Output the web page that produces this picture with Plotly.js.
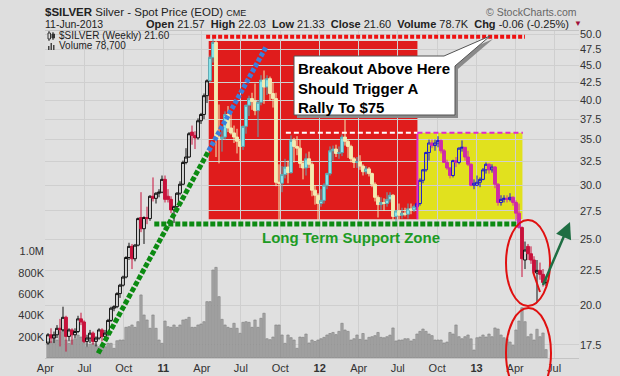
<!DOCTYPE html>
<html><head><meta charset="utf-8">
<script src="https://cdn.plot.ly/plotly-3.0.1.min.js"></script>
<style>html,body{margin:0;padding:0;background:#dedede;}#chart{width:620px;height:376px;}</style>
</head><body><div id="chart"></div>
<script>
// ---- data: weekly bars of $SILVER, first week 2010-04-05 ----
const firstWeek = '2010-04-07';
const opens = [17.6,18.1,17.9,18.1,18.5,18.4,19.2,18.0,18.4,18.1,
18.3,19.1,18.9,17.7,17.9,18.2,17.7,17.9,18.4,18.0,
18.2,19.0,19.8,19.9,20.8,21.4,22.0,23.5,24.4,23.4,
24.5,26.9,25.9,26.9,26.8,28.9,28.7,29.2,29.3,30.6,
28.9,28.6,27.6,27.9,29.2,30.1,32.4,33.0,35.9,35.5,
35.2,37.3,38.1,40.6,42.7,46.2,48.6,35.3,35.1,35.3,
38.1,36.4,35.8,35.3,34.8,34.2,36.6,39.3,40.2,39.8,
38.6,39.7,42.8,41.8,43.0,40.9,40.2,30.3,30.2,31.1,
31.9,31.3,34.9,34.2,34.0,32.3,31.8,32.8,32.2,29.5,
29.0,28.2,28.5,30.0,31.2,33.7,33.9,33.4,33.5,35.3,
34.8,34.2,32.8,32.4,32.5,32.0,31.4,31.7,31.2,30.1,
28.8,28.1,28.3,28.2,28.6,29.0,27.0,27.5,27.1,27.3,
27.2,27.7,27.6,27.9,28.2,30.5,31.6,33.5,34.6,34.3,
34.6,34.9,33.7,32.4,31.8,31.0,32.6,32.4,34.0,34.1,
33.0,32.2,30.0,30.0,30.3,30.6,31.6,32.2,31.6,31.9,
30.1,28.3,28.6,28.7,28.6,28.8,28.3,27.3,26.0,23.3,
24.4,23.8,23.3,22.3,22.5,22.2,21.57];
const highs = [18.2,18.5,18.3,18.7,19.1,19.9,19.3,18.5,18.5,18.5,
19.3,19.5,19.0,18.1,18.4,18.3,18.0,18.5,18.5,18.4,
19.1,19.9,20.0,20.9,21.5,22.1,23.6,24.7,24.6,24.6,
26.9,29.3,27.0,27.9,29.0,30.8,29.3,29.6,31.0,31.0,
29.6,28.9,28.0,29.3,30.4,32.6,34.0,35.9,36.7,36.0,
37.6,38.3,40.9,42.9,46.5,49.8,49.0,39.4,36.4,38.5,
39.2,38.3,36.7,36.3,35.0,36.7,39.4,40.6,41.0,42.3,
40.0,43.5,44.2,43.5,43.3,42.5,41.0,32.2,32.0,32.8,
32.6,35.5,35.2,35.4,35.0,32.6,33.4,33.6,32.4,30.0,
29.2,29.6,30.2,31.3,34.2,34.3,34.4,34.2,35.6,37.5,
35.0,34.4,33.0,33.0,33.2,32.2,32.0,31.9,31.3,30.3,
29.0,28.8,28.7,29.3,29.3,29.1,27.6,28.2,27.8,27.8,
28.2,28.2,28.1,28.3,30.7,31.7,33.6,35.0,35.0,35.0,
35.4,35.0,33.9,32.7,31.9,32.7,33.0,34.1,34.9,34.1,
33.7,32.3,30.6,31.0,30.8,31.8,32.4,32.3,32.2,32.0,
30.2,29.0,29.0,29.0,29.2,28.9,28.5,28.2,26.1,24.8,
24.6,24.4,23.6,23.3,23.1,22.6,22.03];
const lows = [17.5,17.6,17.6,17.9,17.4,18.3,17.1,17.7,17.5,17.9,
18.2,18.7,17.6,17.4,17.6,17.5,17.4,17.8,17.7,17.8,
18.0,18.9,19.6,19.8,20.5,21.3,21.9,23.3,22.6,23.2,
24.4,25.6,24.6,26.3,26.6,28.4,28.2,28.8,29.2,28.3,
28.3,27.3,26.4,27.7,29.0,30.0,32.2,32.9,34.4,33.9,
35.0,36.9,37.5,39.6,42.5,45.4,33.0,32.3,33.6,35.0,
35.9,35.6,34.6,33.4,32.6,33.8,35.7,37.9,38.7,38.0,
35.3,39.3,39.5,40.7,39.9,39.0,29.9,26.2,29.3,30.7,
30.2,31.2,32.4,33.2,31.8,30.6,31.0,31.8,28.9,28.1,
26.2,27.9,28.2,29.6,31.0,32.6,33.0,32.8,33.1,34.3,
32.9,32.4,31.8,31.8,31.6,31.0,31.1,30.9,29.8,28.4,
26.9,27.6,27.5,27.9,28.3,26.6,26.5,26.7,26.8,27.0,
26.8,27.2,27.4,27.7,28.0,30.2,31.4,32.6,34.0,33.7,
34.1,33.4,32.4,31.6,30.7,30.8,31.9,32.2,33.6,32.6,
32.0,29.9,29.6,29.9,29.8,30.5,31.2,31.2,31.3,29.7,
28.0,28.0,28.3,28.3,28.4,28.0,26.6,25.9,22.0,22.6,
23.3,23.0,22.2,20.2,21.8,21.3,21.33];
const closes = [18.1,17.9,18.1,18.5,18.4,19.2,18.0,18.4,18.1,18.3,
19.1,18.9,17.7,17.9,18.2,17.7,17.9,18.4,18.0,18.2,
19.0,19.8,19.9,20.8,21.4,22.0,23.5,24.4,23.4,24.5,
26.8,25.9,26.9,26.8,28.9,28.7,29.2,29.3,30.6,28.6,
28.6,27.6,27.9,29.2,30.1,32.4,33.0,35.7,35.5,35.2,
37.3,38.1,40.6,42.7,46.2,48.6,35.3,35.1,35.3,38.1,
36.4,35.8,35.3,34.8,34.2,36.6,39.3,40.2,39.8,38.6,
39.7,42.8,41.8,43.0,40.9,40.2,30.3,30.2,31.1,31.9,
31.3,34.9,34.2,34.0,32.3,31.8,32.8,32.2,29.5,29.0,
28.2,28.5,30.0,31.2,33.7,33.9,33.4,33.5,35.3,34.8,
34.2,32.8,32.4,32.5,32.0,31.4,31.7,31.2,30.1,28.8,
28.1,28.3,28.2,28.6,29.0,27.0,27.5,27.1,27.3,27.2,
27.7,27.6,27.9,28.2,30.5,31.6,33.5,34.6,34.3,34.6,
34.9,33.7,32.4,31.8,31.0,32.6,32.4,34.0,34.1,33.0,
32.2,30.0,30.2,30.3,30.6,31.6,32.2,31.6,31.9,30.1,
28.3,28.6,28.7,28.6,28.8,28.3,27.3,26.0,23.4,24.1,
23.8,23.3,22.4,22.5,22.2,21.6,21.60];
const volumesK = [153,153,197,169,247,263,169,138,169,181,
216,197,169,106,130,138,122,106,122,106,
138,138,91,162,169,169,288,294,310,288,
341,592,404,357,279,404,279,169,138,347,
294,288,310,288,310,357,363,382,288,288,
310,319,341,529,529,826,851,576,363,310,
288,279,326,279,232,335,341,335,288,357,
288,373,420,181,172,197,310,310,216,138,
216,191,169,91,197,194,225,141,169,155,
169,181,194,216,230,240,220,250,326,263,
250,169,181,216,175,230,169,194,200,210,
240,194,190,200,215,282,160,169,169,181,
181,160,175,225,250,272,250,225,210,169,
169,169,141,150,240,225,310,200,181,200,
216,180,75,190,197,216,197,225,200,282,
272,216,190,175,150,120,263,347,472,341,
200,225,169,270,200,235,78.7];
const priceTicks = [17.5,20,22.5,25,27.5,30,32.5,35,37.5,40,42.5,45,47.5,50];
const volTicks = [200,400,600,800,1000];
const volTickText = ['200K','400K','600K','800K','1.0M'];
const monthTicks = ['2010-04-01','2010-07-01','2010-10-01','2011-01-01','2011-04-01','2011-07-01','2011-10-01',
  '2012-01-01','2012-04-01','2012-07-01','2012-10-01','2013-01-01','2013-04-01','2013-07-01'];
const monthLabels = ['Apr','Jul','Oct','<b>11</b>','Apr','Jul','Oct','<b>12</b>','Apr','Jul','Oct','<b>13</b>','Apr','Jul'];
// colour zones (start index of each zone)
const zoneStarts = [0,54,123,158];

// ---- build ----
const dates = opens.map((_,k)=>{const d=new Date(Date.UTC(2010,3,7)+k*7*864e5);return d.toISOString().slice(0,10);});
const zoneStyle = [
  {up:'#111111',upFill:'rgba(0,0,0,0)',dn:'#c8123c',dnFill:'#c8123c'},
  {up:'#5aaab4',upFill:'#8ce8ee',dn:'#f2ebb2',dnFill:'#f2ebb2'},
  {up:'#1a1ad0',upFill:'rgba(0,0,0,0)',dn:'#d02aa8',dnFill:'#d02aa8'},
  {up:'#111111',upFill:'rgba(0,0,0,0)',dn:'#c8123c',dnFill:'#c8123c'}
];
const traces = [{
  type:'bar', x:dates, y:volumesK, xaxis:'x', yaxis:'y',
  marker:{color:'#a9a9a9', line:{color:'#7c7c7c', width:0.6}},
  width:5.4*864e5, hoverinfo:'skip', showlegend:false
}];
zoneStarts.forEach((s,i)=>{
  const e = i+1<zoneStarts.length ? zoneStarts[i+1] : opens.length;
  const st = zoneStyle[i];
  traces.push({
    type:'candlestick', xaxis:'x', yaxis:'y2',
    x:dates.slice(s,e), open:opens.slice(s,e), high:highs.slice(s,e), low:lows.slice(s,e), close:closes.slice(s,e),
    increasing:{line:{color:st.up,width:1}, fillcolor:st.upFill},
    decreasing:{line:{color:st.dn,width:1}, fillcolor:st.dnFill},
    whiskerwidth:0, showlegend:false, hoverinfo:'skip'
  });
});

const L=45,R=579,T=31,B=358;
const px = x => (x-L)/(R-L);
const py = y => (B-y)/(B-T);
const pathP = pts => 'M'+pts.map(p=>px(p[0]).toFixed(4)+','+py(p[1]).toFixed(4)).join(' L')+' Z';
const FONT = 'Liberation Sans, Arial, sans-serif';

const shapes = [
  // zones
  {type:'rect',xref:'x',yref:'y2',x0:'2011-04-17',x1:'2012-08-16',y0:26.74,y1:48.83,fillcolor:'#e01c1c',line:{width:0},layer:'below'},
  {type:'rect',xref:'x',yref:'y2',x0:'2012-08-16',x1:'2013-04-18',y0:26.74,y1:35.83,fillcolor:'#e1e11e',line:{width:0},layer:'below'},
  {type:'line',xref:'x',yref:'y2',x0:'2012-08-16',x1:'2012-08-16',y0:26.74,y1:35.83,line:{color:'#e02ad0',width:2}},
  // dashed resistance lines
  {type:'line',xref:'x',yref:'y2',x0:'2011-10-14',x1:'2012-08-16',y0:35.83,y1:35.83,line:{color:'#ffffff',width:2,dash:'5px,3px'}},
  {type:'line',xref:'x',yref:'y2',x0:'2012-08-16',x1:'2013-04-19',y0:35.83,y1:35.83,line:{color:'#e02ad0',width:2,dash:'5px,3px'}},
  // top red dotted
  {type:'line',xref:'x',yref:'y2',x0:'2011-04-11',x1:'2013-04-24',y0:49.55,y1:49.55,line:{color:'#ee1111',width:4,dash:'4px,2px'}},
  // support dotted
  {type:'line',xref:'x',yref:'y2',x0:'2010-12-11',x1:'2013-04-06',y0:26.32,y1:26.32,line:{color:'#0c8a12',width:5,dash:'5px,2px'}},
  // trend lines
  {type:'line',xref:'x',yref:'y2',x0:'2010-08-02',x1:'2011-04-17',y0:17.0,y1:33.7,line:{color:'#0c8a12',width:5,dash:'5px,2px'}},
  {type:'line',xref:'x',yref:'y2',x0:'2011-04-17',x1:'2011-08-29',y0:33.7,y1:47.9,line:{color:'#3a7fdc',width:5,dash:'4px,2px'}},
  // callout shadow + box
  {type:'path',xref:'paper',yref:'paper',path:pathP([[297,59],[447,59],[493,39],[458,69],[458,118],[297,118]]),fillcolor:'#8a8a8a',line:{width:0}},
  {type:'path',xref:'paper',yref:'paper',path:pathP([[294,56],[444,56],[490,36],[455,66],[455,115],[294,115]]),fillcolor:'#ffffff',line:{color:'#555555',width:1}},
  // ellipses
  {type:'circle',xref:'paper',yref:'paper',x0:px(506),x1:px(550),y0:py(306),y1:py(220),line:{color:'#e01010',width:2}},
  {type:'circle',xref:'paper',yref:'paper',x0:px(506),x1:px(551),y0:py(398),y1:py(308),line:{color:'#e01010',width:2}},
  {type:'line',xref:'paper',yref:'paper',x0:px(533),x1:px(540),y0:py(272),y1:py(292),line:{color:'#e01010',width:2}},
  // legend icons
  {type:'line',xref:'paper',yref:'paper',x0:px(49),x1:px(49),y0:py(41),y1:py(31),line:{color:'#333',width:1}},
  {type:'rect',xref:'paper',yref:'paper',x0:px(48),x1:px(50.5),y0:py(39),y1:py(33),fillcolor:'#dedede',line:{color:'#333',width:1}},
  {type:'line',xref:'paper',yref:'paper',x0:px(53),x1:px(53),y0:py(40),y1:py(32),line:{color:'#333',width:1}},
  {type:'rect',xref:'paper',yref:'paper',x0:px(52),x1:px(54.5),y0:py(38),y1:py(34),fillcolor:'#333',line:{color:'#333',width:1}},
  {type:'rect',xref:'paper',yref:'paper',x0:px(48),x1:px(49.5),y0:py(50),y1:py(46),fillcolor:'#444',line:{width:0}},
  {type:'rect',xref:'paper',yref:'paper',x0:px(50.5),x1:px(52),y0:py(50),y1:py(43),fillcolor:'#444',line:{width:0}},
  {type:'rect',xref:'paper',yref:'paper',x0:px(53),x1:px(54.5),y0:py(50),y1:py(45),fillcolor:'#444',line:{width:0}}
];

const ann = (x,y,text,opt) => Object.assign({xref:'paper',yref:'paper',x:px(x),y:py(y),text:text,showarrow:false,
  xanchor:'left',yanchor:'middle',font:{family:FONT,size:11,color:'#222'}},opt||{});

const annotations = [
  ann(43,12,'<b>$SILVER</b> Silver - Spot Price (EOD) <span style="font-size:9px">CME</span>',{font:{family:FONT,size:11.5,color:'#222'}}),
  ann(43,24,'11-Jun-2013',{font:{family:FONT,size:10.5,color:'#222'}}),
  ann(144,24,'<b>Open</b> 21.57  <b>High</b> 22.03  <b>Low</b> 21.33  <b>Close</b> 21.60  <b>Volume</b> 78.7K  <b>Chg</b> -0.06 (-0.25%)',{font:{family:FONT,size:11,color:'#222'}}),
  ann(572,24,'▼',{font:{family:FONT,size:8,color:'#a0103a'}}),
  ann(579,12,'© StockCharts.com',{xanchor:'right',font:{family:FONT,size:10.5,color:'#666'}}),
  ann(57,36,'$SILVER (Weekly) 21.60',{font:{family:FONT,size:10,color:'#222'}}),
  ann(57,46,'Volume 78,700',{font:{family:FONT,size:10,color:'#222'}}),
  ann(296,58,'<b>Breakout Above Here</b><br><b>Should Trigger A</b><br><b>Rally To $75</b>',{yanchor:'top',align:'left',font:{family:FONT,size:15,color:'#000'}}),
  ann(351,237,'<b>Long Term Support Zone</b>',{xanchor:'center',font:{family:FONT,size:15,color:'#1d9b24'}}),
  {xref:'paper',yref:'paper',x:px(570),y:py(222),ax:-30,ay:70,text:' ',showarrow:true,arrowhead:2,arrowsize:1.3,arrowwidth:2.5,arrowcolor:'#1f6e43',standoff:0}
];

const layout = {
  width:620, height:376, margin:{l:L,r:620-R,t:T,b:376-B,pad:0},
  paper_bgcolor:'#dedede', plot_bgcolor:'#e0e0e0',
  showlegend:false, boxgap:0.05, boxgroupgap:0,
  font:{family:FONT,size:11,color:'#333'},
  xaxis:{type:'date', range:['2010-03-31','2013-08-28'], tickvals:monthTicks, ticktext:monthLabels,
    showgrid:true, gridcolor:'#cfcfcf', gridwidth:1, ticks:'', zeroline:false,
    rangeslider:{visible:false}, showline:true, linecolor:'#c4c4c4', mirror:true, tickfont:{size:11,color:'#333'}},
  yaxis:{range:[0,3070], tickvals:volTicks, ticktext:volTickText, showgrid:false, zeroline:false, ticks:'',
    side:'left', tickfont:{size:11,color:'#333'}, showline:false},
  yaxis2:{type:'log', range:[1.2236,1.7034], overlaying:'y', side:'right', tickvals:priceTicks,
    ticktext:priceTicks.map(v=>v.toFixed(1)), showgrid:true, gridcolor:'#cfcfcf', zeroline:false, ticks:'',
    tickfont:{size:11,color:'#333'}, showline:false},
  shapes:shapes, annotations:annotations
};
Plotly.newPlot('chart', traces, layout, {displayModeBar:false, staticPlot:true});
</script></body></html>
